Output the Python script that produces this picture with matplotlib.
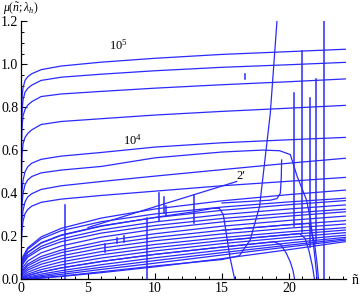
import matplotlib
matplotlib.use("Agg")
import matplotlib.pyplot as plt
from matplotlib.ticker import MultipleLocator, FormatStrFormatter

plt.rcParams['font.family'] = ['Liberation Serif', 'DejaVu Serif']
plt.rcParams['mathtext.fontset'] = 'custom'
plt.rcParams['mathtext.rm'] = 'Liberation Serif'
plt.rcParams['mathtext.it'] = 'Liberation Serif:italic'

# abscissa grids
XT = [0, 0.01, 0.03, 0.08, 0.15, 0.3, 0.5, 0.8, 1.5, 3, 6, 10, 15, 20, 24.2]
X = [0, 0.03, 0.15, 0.5, 1.5, 3, 6, 10, 15, 20, 24.2]

# upper (steep) curves, on grid XT
c1 = [0, 0.60, 0.75, 0.85, 0.89, 0.925, 0.942, 0.956, 0.975, 0.992, 1.010, 1.028, 1.046, 1.059, 1.070]
c2 = [0, 0.52, 0.67, 0.78, 0.835, 0.87, 0.888, 0.903, 0.925, 0.940, 0.954, 0.970, 0.986, 0.998, 1.009]
c3 = [0, 0.45, 0.60, 0.71, 0.76, 0.79, 0.81, 0.826, 0.850, 0.862, 0.874, 0.889, 0.905, 0.919, 0.932]
c4 = [0, 0.33, 0.47, 0.58, 0.63, 0.66, 0.678, 0.695, 0.72, 0.734, 0.747, 0.764, 0.781, 0.796, 0.809]
c5 = [0, 0.22, 0.32, 0.41, 0.46, 0.50, 0.523, 0.54, 0.558, 0.573, 0.590, 0.615, 0.635, 0.649, 0.660]
c7 = [0, 0.14, 0.21, 0.28, 0.32, 0.36, 0.383, 0.398, 0.418, 0.435, 0.455, 0.48, 0.51, 0.54, 0.563]
c8 = [0, 0.11, 0.17, 0.23, 0.27, 0.305, 0.325, 0.340, 0.358, 0.373, 0.390, 0.41, 0.435, 0.456, 0.474]
upper_curves = [c1, c2, c3, c4, c5, c7, c8]

# lower bundle, on grid X
c9 = [0, 0.069, 0.106, 0.146, 0.197, 0.237, 0.285, 0.327, 0.365, 0.394, 0.415]
c10 = [0, 0.062, 0.098, 0.140, 0.188, 0.226, 0.268, 0.304, 0.336, 0.360, 0.377]
c11 = [0, 0.058, 0.090, 0.126, 0.170, 0.206, 0.249, 0.287, 0.321, 0.347, 0.366]
c12 = [0, 0.049, 0.078, 0.111, 0.153, 0.188, 0.230, 0.267, 0.301, 0.327, 0.346]
c13 = [0, 0.044, 0.072, 0.103, 0.142, 0.175, 0.215, 0.250, 0.283, 0.308, 0.326]
c14 = [0, 0.033, 0.056, 0.085, 0.123, 0.155, 0.196, 0.233, 0.267, 0.294, 0.314]
c15 = [0, 0.025, 0.045, 0.071, 0.106, 0.136, 0.176, 0.212, 0.247, 0.274, 0.294]
c16 = [0, 0.022, 0.040, 0.063, 0.095, 0.124, 0.161, 0.195, 0.228, 0.254, 0.273]
c17 = [0, 0.017, 0.032, 0.052, 0.082, 0.109, 0.145, 0.179, 0.211, 0.238, 0.257]
c18 = [0, 0.012, 0.025, 0.043, 0.070, 0.095, 0.129, 0.162, 0.194, 0.221, 0.240]
c19 = [0, 0.008, 0.018, 0.033, 0.057, 0.081, 0.114, 0.147, 0.180, 0.208, 0.229]
c20 = [0, 0.005, 0.012, 0.024, 0.045, 0.067, 0.099, 0.132, 0.166, 0.195, 0.217]
c21 = [0, 0.003, 0.008, 0.017, 0.034, 0.053, 0.083, 0.116, 0.150, 0.181, 0.205]
c22 = [0, 0.001, 0.004, 0.010, 0.024, 0.040, 0.068, 0.100, 0.136, 0.169, 0.195]
c23 = [0, 0.001, 0.002, 0.006, 0.017, 0.031, 0.056, 0.087, 0.124, 0.159, 0.188]
c24 = [0, 0.000, 0.001, 0.004, 0.012, 0.023, 0.046, 0.075, 0.113, 0.151, 0.182]
c25 = [0, 0.000, 0.000, 0.001, 0.005, 0.013, 0.031, 0.058, 0.096, 0.138, 0.175]
lower_curves = [c9, c10, c11, c12, c13, c14, c15, c16, c17, c18, c19, c20,
                c21, c22, c23, c24, c25]

# curves that break away from the family
x6 = [0, 0.01, 0.03, 0.08, 0.15, 0.3, 0.5, 0.8, 1.5, 3, 6, 10, 15, 18, 19.3,
      20.1, 20.6, 21.3, 21.6, 21.9, 22.1]
v6 = [0, 0.18, 0.27, 0.35, 0.40, 0.44, 0.462, 0.478, 0.495, 0.508, 0.525, 0.565,
      0.592, 0.601, 0.598, 0.58, 0.48, 0.37, 0.28, 0.12, 0.0]
xA = [0, 0.03, 0.15, 0.5, 1.5, 3, 6, 10, 13, 14.3, 14.8, 15.1, 15.35, 15.6, 15.95]
vA = [0, 0.055, 0.088, 0.124, 0.168, 0.204, 0.247, 0.288, 0.315, 0.33, 0.33, 0.30, 0.20, 0.10, 0.0]
xB = [0, 0.03, 0.15, 0.5, 1.5, 3, 6, 10, 15, 18.9, 19.4, 19.8, 20.1, 20.3, 20.42]
vB = [0, 0.003, 0.008, 0.017, 0.034, 0.053, 0.083, 0.116, 0.150, 0.175, 0.16, 0.121, 0.08, 0.04, 0.0]
xC = [15, 20, 20.8, 21.2, 21.5, 21.75, 21.9]
vC = [0.180, 0.208, 0.213, 0.19, 0.13, 0.06, 0.0]
xD = [15, 20, 21.5, 21.9, 22.1, 22.2]
vD = [0.228, 0.254, 0.26, 0.17, 0.07, 0.0]
xS = [0, 3, 6, 10, 13, 15, 16.3, 17.1, 17.8, 18.6, 19.1, 19.3]
vS = [0, 0.015, 0.035, 0.062, 0.08, 0.092, 0.11, 0.183, 0.338, 0.77, 1.2, 1.35]
xR = [15, 18.6, 19.1, 19.35, 19.42, 19.45]
vR = [0.355, 0.368, 0.375, 0.40, 0.47, 0.555]
x2p = [5.0, 16.1]
v2p = [0.241, 0.455]

# vertical numerical spikes
spike_x = [3.28, 9.40, 10.27, 10.70, 10.85, 12.90, 6.30, 7.14, 7.69, 16.70, 20.40, 21.00, 21.60, 22.00, 22.62]
spike_lo = [0.0, 0.0, 0.273, 0.307, 0.299, 0.263, 0.125, 0.167, 0.175, 0.930, 0.25, 0.22, 0.15, 0.17, 0.0]
spike_hi = [0.346, 0.286, 0.403, 0.381, 0.341, 0.392, 0.165, 0.190, 0.201, 0.955, 0.868, 1.062, 0.842, 0.930, 1.25]

x_ticks = [0, 5, 10, 15, 20]
y_ticks = [0.0, 0.2, 0.4, 0.6, 0.8, 1.0, 1.2]

blue = '#2a2aff'
lw = 0.9

fig = plt.figure(figsize=(3.6, 3.0), dpi=100)
ax = fig.add_axes([21 / 360, 20.7 / 300, 324.7 / 360, 258 / 300])

for c in upper_curves:
    ax.plot(XT, c, color=blue, lw=lw)
for c in lower_curves:
    ax.plot(X, c, color=blue, lw=lw)
for xs, vs in [(x6, v6), (xA, vA), (xB, vB), (xC, vC), (xD, vD), (xS, vS), (xR, vR), (x2p, v2p)]:
    ax.plot(xs, vs, color=blue, lw=lw)
for sx, lo, hi in zip(spike_x, spike_lo, spike_hi):
    ax.plot([sx, sx], [lo, hi], color=blue, lw=1.1)

ax.set_xlim(0, 24.23)
ax.set_ylim(0, 1.2)
for s in ['top', 'right']:
    ax.spines[s].set_visible(False)
for s in ['left', 'bottom']:
    ax.spines[s].set_linewidth(0.9)
    ax.spines[s].set_zorder(5)

ax.set_xticks(x_ticks)
ax.set_yticks(y_ticks)
ax.yaxis.set_major_formatter(FormatStrFormatter('%.1f'))
ax.xaxis.set_minor_locator(MultipleLocator(1))
ax.yaxis.set_minor_locator(MultipleLocator(0.05))
ax.tick_params(which='major', direction='in', length=4.5, width=0.8, labelsize=10, pad=2)
ax.tick_params(which='minor', direction='in', length=2.5, width=0.7)

ax.text(7.3, 1.09, r'$10^5$', fontsize=9, ha='center', va='center')
ax.text(8.3, 0.648, r'$10^4$', fontsize=9, ha='center', va='center')
ax.text(16.4, 0.48, "2\u2032", fontsize=9, ha='center', va='center')

fig.text(3 / 360, 1 - 9 / 300, r'$\mu(\tilde{n};\lambda_h)$', fontsize=8.5, ha='left', va='center')
fig.text(352 / 360, 1 - 280 / 300, 'ñ', fontsize=10, ha='left', va='center')

fig.savefig('out.png', dpi=100)
